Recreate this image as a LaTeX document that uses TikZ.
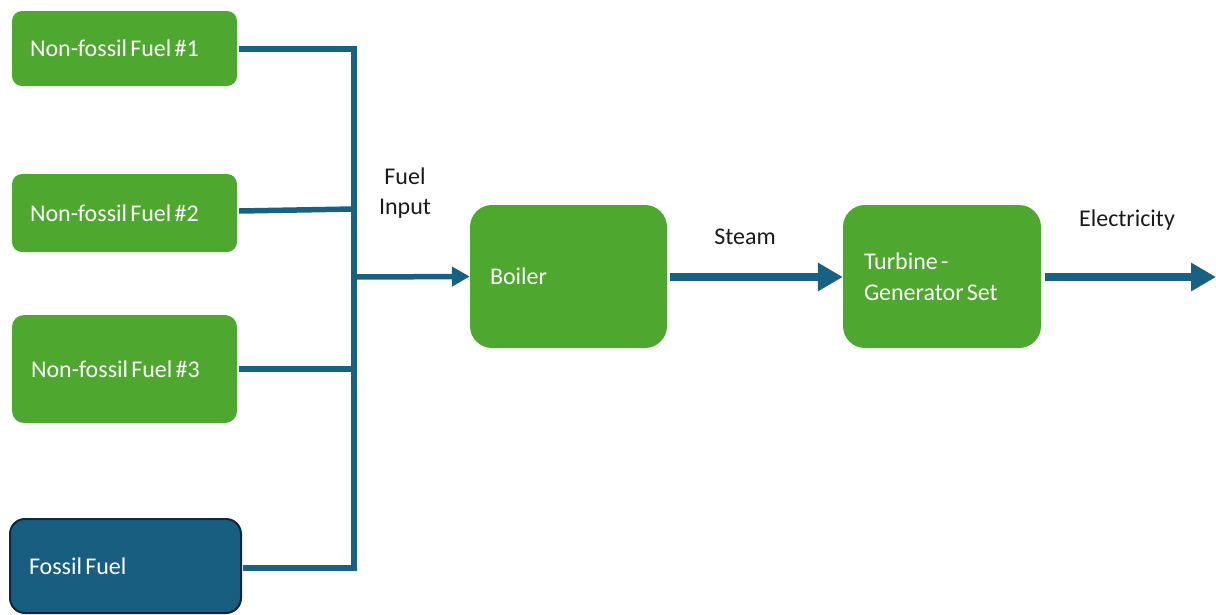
\documentclass[tikz,border=0pt]{standalone}
\usepackage{fontspec}
\setmainfont{Carlito}
\usetikzlibrary{arrows.meta}
\definecolor{boxgreen}{HTML}{4EA72E}
\definecolor{boxblue}{HTML}{175E80}
\definecolor{boxborder}{HTML}{0E2841}
\definecolor{linkblue}{HTML}{186183}
\definecolor{labeltext}{HTML}{1A1A1A}
\newcommand{\tightwords}{\spaceskip=3.2pt plus 1pt minus 1pt\relax}
\tikzset{
  basebox/.style={rectangle, align=left, inner ysep=0pt, text=white,
    font=\fontsize{24}{31}\selectfont},
  greenbox/.style={basebox, fill=boxgreen, rounded corners=10pt},
  bigbox/.style={basebox, fill=boxgreen, rounded corners=22pt},
  fossilbox/.style={basebox, fill=boxblue, draw=boxborder, line width=2pt, rounded corners=15pt},
  conn/.style={draw=linkblue, line width=5.5pt, line join=miter},
  bigarrow/.style={draw=linkblue, line width=8pt, -{Triangle[length=25pt,width=27pt]}},
  lbl/.style={text=labeltext, align=center, font=\fontsize{24}{30}\selectfont}
}
\begin{document}
\begin{tikzpicture}[x=1pt,y=-1pt]
\useasboundingbox (0,0) rectangle (1216,614);
% source boxes
\node[greenbox, inner xsep=18pt, text width=189pt, minimum height=75pt] (nf1) at (124.5,48.5) {\tightwords Non-fossil Fuel \#1};
\node[greenbox, inner xsep=18pt, text width=189pt, minimum height=78pt] (nf2) at (124.5,213) {\tightwords Non-fossil Fuel \#2};
\node[greenbox, inner xsep=19pt, text width=187pt, minimum height=108pt, rounded corners=12pt] (nf3) at (124.5,369) {\tightwords Non-fossil Fuel \#3};
\node[fossilbox, inner xsep=19pt, text width=193pt, minimum height=94pt] (fossil) at (125.5,566) {\tightwords Fossil Fuel};
% process boxes
\node[bigbox, inner xsep=20pt, text width=157pt, minimum height=143pt] (boiler) at (568.5,276.5) {Boiler};
\node[bigbox, inner xsep=21pt, text width=156pt, minimum height=143pt] (turbine) at (942,276.5) {\tightwords Turbine -\\Generator Set};
% bus coordinates
\coordinate (b1) at (354,49);
\coordinate (b2) at (354,209);
\coordinate (b3) at (354,369);
\coordinate (b4) at (354,568);
\coordinate (bf) at (354,277);
\coordinate (elec) at (1216,277);
% connectors
\draw[conn] ([xshift=2pt]nf1.east |- b1) -- (b1) -- (b4) -- ([xshift=1pt]fossil.east |- b4);
\draw[conn] ([xshift=2pt,yshift=2pt]nf2.east) -- (b2);
\draw[conn] ([xshift=2pt]nf3.east |- b3) -- (b3);
\draw[conn, -{Triangle[length=18pt,width=19pt]}] (bf) -- (boiler.west);
\draw[bigarrow] ([xshift=3pt]boiler.east |- bf) -- (turbine.west |- bf);
\draw[bigarrow] ([xshift=4pt]turbine.east |- elec) -- (elec);
% labels
\node[lbl] (fuelin) at (405,193) {Fuel\\Input};
\node[lbl] (steam) at (745,237) {Steam};
\node[lbl] (electricity) at (1127,220) {Electricity};
\end{tikzpicture}
\end{document}
